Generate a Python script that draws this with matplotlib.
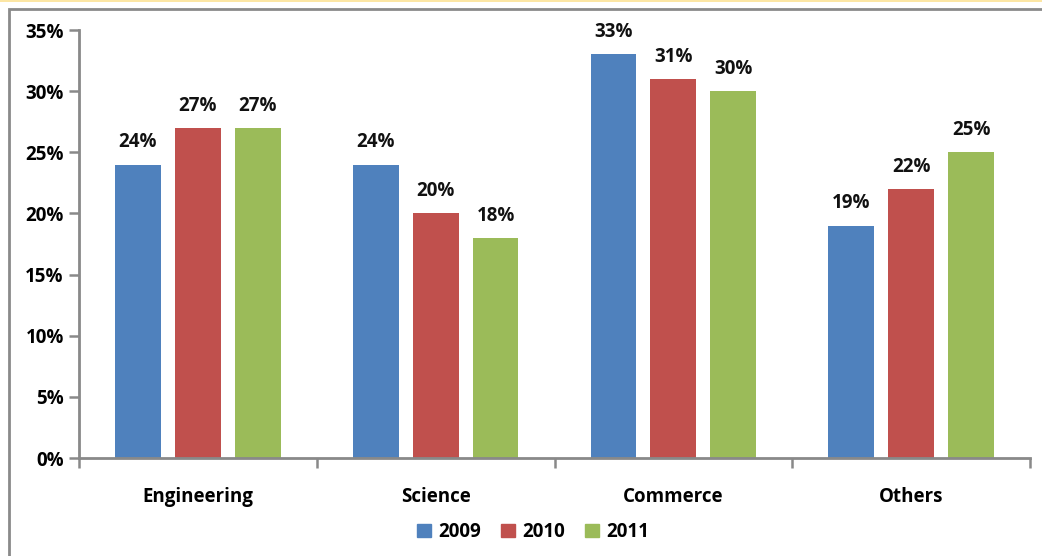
import matplotlib.pyplot as plt
import matplotlib.patches as mpatches
import numpy as np

plt.rcParams['font.family'] = ['Open Sans', 'DejaVu Sans']

# data
categories = ['Engineering', 'Science', 'Commerce', 'Others']
years = ['2009', '2010', '2011']
v2009 = [24, 24, 33, 19]
v2010 = [27, 20, 31, 22]
v2011 = [27, 18, 30, 25]
colors = ['#4F81BD', '#C0504D', '#9BBB59']

fig = plt.figure(figsize=(10.42, 5.56), dpi=100)
ax = fig.add_axes([79 / 1042, 98 / 556, 951 / 1042, 428 / 556])

x = np.arange(len(categories))
step = 0.252
width = 0.193
fs = 13.5
for i, (vals, c, lab) in enumerate(zip([v2009, v2010, v2011], colors, years)):
    pos = x + (i - 1) * step
    ax.bar(pos, vals, width, color=c, label=lab, zorder=2)
    for p, v in zip(pos, vals):
        ax.text(p, v + 1.0, f'{v}%', ha='center', va='bottom',
                fontsize=fs, fontweight='bold', color='#111111')

grey = '#898989'
ax.set_xlim(-0.5, len(categories) - 0.5)
ax.set_ylim(0, 35)
ax.set_yticks(np.arange(0, 36, 5))
ax.set_yticklabels([f'{t}%' for t in range(0, 36, 5)],
                   fontsize=fs, fontweight='bold')
ax.set_xticks(np.arange(-0.5, len(categories), 1.0))
ax.set_xticklabels([])
ax.set_xticks(x, minor=True)
ax.set_xticklabels(categories, minor=True, fontsize=fs, fontweight='bold')
ax.tick_params(axis='x', which='minor', length=0, pad=21)
ax.tick_params(axis='x', which='major', length=7, width=1.8, color=grey)
ax.tick_params(axis='y', length=7, width=1.8, color=grey, pad=4)
for s in ['top', 'right']:
    ax.spines[s].set_visible(False)
for s in ['left', 'bottom']:
    ax.spines[s].set_color(grey)
    ax.spines[s].set_linewidth(2)

handles = [mpatches.Patch(color=c, label=y) for c, y in zip(colors, years)]
leg = fig.legend(handles=handles, loc='center', bbox_to_anchor=(533 / 1042, 1 - 532 / 556),
                 ncol=3, frameon=False, handlelength=0.75, handleheight=0.75,
                 handletextpad=0.35, columnspacing=1.1,
                 prop={'size': fs, 'weight': 'bold'})

# outer frame and top strip
fig.patches.append(mpatches.Rectangle((9 / 1042, -0.1), 1.2, 1 - 9 / 556 + 0.1,
                                      transform=fig.transFigure, fill=False,
                                      edgecolor='#8a8a8a', linewidth=2))
fig.patches.append(mpatches.Rectangle((0, 1 - 2 / 556), 1, 2 / 556,
                                      transform=fig.transFigure,
                                      facecolor='#FCE6A4', edgecolor='none'))

plt.savefig('out.png', dpi=100)
plt.close()
